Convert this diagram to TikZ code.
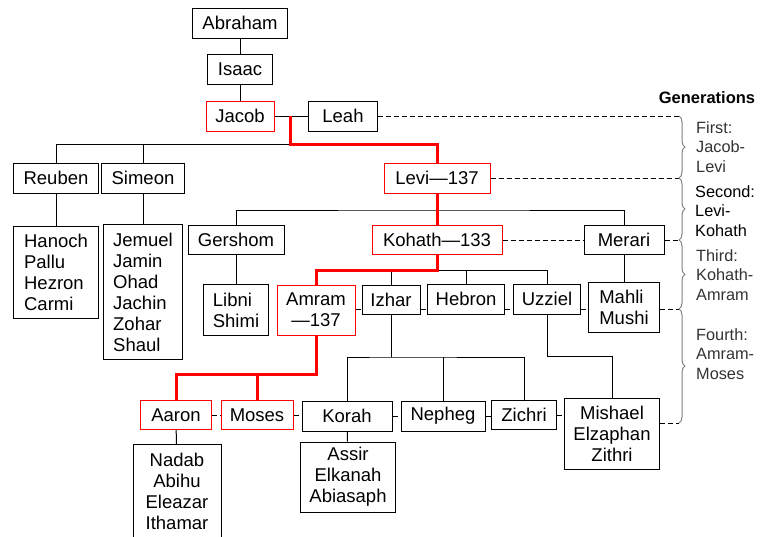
\documentclass[tikz,border=0pt]{standalone}
\usepackage{fontspec}
\setmainfont{Liberation Sans}
\usetikzlibrary{decorations.pathreplacing}
\tikzset{
    person/.style = {rectangle, draw=black, line width=1pt, fill=white, inner sep=0pt, minimum height=30pt, align=center},
    personr/.style = {person, draw=red},
    edgen/.style = {line width=1pt, black},
    edger/.style = {line width=3pt, red},
    edged/.style = {line width=1pt, black, dash pattern=on 5pt off 3pt}, % same generation
    genbrace/.style = {line width=1pt, gray, decorate, decoration={brace, amplitude=6pt}},
    genlabel/.style = {anchor=west, align=left, inner sep=0pt, font=\fontsize{16.3}{19.5}\selectfont, text=black!80}
}

\begin{document}
\begin{tikzpicture}[x=1pt, y=-1pt, font=\fontsize{18.5}{21}\selectfont]
\useasboundingbox (0,0) rectangle (763,536);
\node[person, minimum width=95pt] at (240,23) (abraham) {Abraham};
\node[person, minimum width=65pt] at (240,69) (isaac) {Isaac};
\node[personr, minimum width=68pt] at (240,116) (jacob) {Jacob};
\node[person, minimum width=69pt] at (343,116) (leah) {Leah};
\node[person, minimum width=85pt] at (56,178) (reuben) {Reuben};
\node[person, minimum width=83pt] at (143,178) (simeon) {Simeon};
\node[personr, minimum width=106pt] at (437,178) (levi) {Levi—137};
\node[person, minimum width=85pt, minimum height=92pt, align=left] at (56,272) (hanoch) {Hanoch\\Pallu\\Hezron\\Carmi};
\node[person, minimum width=79pt, minimum height=135pt, align=left] at (143,292) (jemuel) {Jemuel\\Jamin\\Ohad\\Jachin\\Zohar\\Shaul};
\node[person, minimum width=96pt, minimum height=29pt] at (236,240) (gershom) {Gershom};
\node[personr, minimum width=130pt, minimum height=29pt] at (437,240) (kohath) {Kohath—133};
\node[person, minimum width=80pt, minimum height=29pt] at (624,240) (merari) {Merari};
\node[person, minimum width=65pt, minimum height=51pt, align=left] at (236,310) (libni) {Libni\\Shimi};
\node[personr, minimum width=78pt, minimum height=50pt] at (316,310) (amram) {Amram\\—137};
\node[person, minimum width=58pt, minimum height=29pt] at (391,300) (izhar) {Izhar};
\node[person, minimum width=77pt, minimum height=30pt] at (466,299) (hebron) {Hebron};
\node[person, minimum width=67pt, minimum height=30pt] at (547,299) (uzziel) {Uzziel};
\node[person, minimum width=71pt, minimum height=50pt, align=left] at (624,307) (mahli) {Mahli\\Mushi};
\node[personr, minimum width=71pt, minimum height=29pt] at (176,415) (aaron) {Aaron};
\node[personr, minimum width=72pt, minimum height=29pt] at (257,415) (moses) {Moses};
\node[person, minimum width=90pt] at (347,416) (korah) {Korah};
\node[person, minimum width=84pt] at (443,416) (nepheg) {Nepheg};
\node[person, minimum width=65pt, minimum height=29pt] at (524,415) (zichri) {Zichri};
\node[person, minimum width=95pt, minimum height=71pt] at (612,434) (mishael) {Mishael\\Elzaphan\\Zithri};
\node[person, minimum width=88pt, minimum height=93pt] at (177,491) (nadab) {Nadab\\Abihu\\Eleazar\\Ithamar};
\node[person, minimum width=95pt, minimum height=70pt] at (348,477) (assir) {Assir\\Elkanah\\Abiasaph};
%
\coordinate (jl) at (290,116);
\coordinate (j1) at (290,144);
\coordinate (l1) at (437,210);
\coordinate (k1) at (437,270);
\coordinate (a1) at (316,374);
\coordinate (i1) at (391,357);
\coordinate (u1) at (612,356);
\coordinate (g1) at (679,116);
\coordinate (g2) at (679,178);
\coordinate (g3) at (679,240);
\coordinate (g4) at (679,309);
\coordinate (g5) at (679,423);
%
\draw[edgen] (abraham) -- (isaac);
\draw[edgen] (isaac) -- (jacob);
\draw[edgen] (jacob) -- (leah);
\draw[edgen] (j1) -| (reuben);
\draw[edgen] (simeon |- j1) -- (simeon);
\draw[edgen] (reuben) -- (hanoch);
\draw[edgen] (simeon) -- (jemuel);
\draw[edgen] (gershom) |- (l1) -| (merari);
\draw[edgen] (gershom) -- (libni);
\draw[edgen] (merari) -- (mahli);
\draw[edgen] (k1) -| (uzziel);
\draw[edgen] (izhar |- k1) -- (izhar);
\draw[edgen] (hebron |- k1) -- (hebron);
\draw[edgen] (izhar) -- (i1);
\draw[edgen] (korah) |- (i1) -| (zichri);
\draw[edgen] (nepheg |- i1) -- (nepheg);
\draw[edgen] (uzziel) |- (u1) -- (mishael);
\draw[edgen] (aaron) -- (nadab);
\draw[edgen] (korah) -- (assir);
%
\draw[edger] (jl) -- (j1) -| (levi);
\draw[edger] (levi) -- (kohath);
\draw[edger] (kohath) |- (k1) -| (amram);
\draw[edger] (amram) |- (a1) -| (aaron);
\draw[edger] (moses |- a1) -- (moses);
%
\draw[edged] (leah) -- (g1);
\draw[edged] (levi) -- (g2);
\draw[edged] (kohath) -- (merari);
\draw[edged] (merari) -- (g3);
\draw[edged] (amram.east |- g4) -- (izhar.west |- g4);
\draw[edged] (izhar.east |- g4) -- (hebron.west |- g4);
\draw[edged] (hebron.east |- g4) -- (uzziel.west |- g4);
\draw[edged] (uzziel.east |- g4) -- (mahli.west |- g4);
\draw[edged] (mahli.east |- g4) -- (g4);
\draw[edged] (aaron.east) -- (moses.west);
\draw[edged] (moses.east) -- (korah.west |- moses.east);
\draw[edged] (korah.east) -- (nepheg.west);
\draw[edged] (nepheg.east) -- (zichri.west |- nepheg.east);
\draw[edged] (zichri.east) -- (mishael.west |- zichri.east);
\draw[edged] (mishael.east |- g5) -- (g5);
%
\draw[genbrace] (g1) -- (g2);
\draw[genbrace] (g2) -- (g3);
\draw[genbrace] (g3) -- (g4);
\draw[genbrace] (g4) -- (g5);
\node[font=\fontsize{16.5}{19}\selectfont\bfseries, inner sep=0pt] at (707,98) (gens) {Generations};
\node[genlabel] at (696,147) (first) {First:\\Jacob-\\Levi};
\node[genlabel, text=black] at (695,211) (second) {Second:\\Levi-\\Kohath};
\node[genlabel] at (696,275) (third) {Third:\\Kohath-\\Amram};
\node[genlabel] at (696,354) (fourth) {Fourth:\\Amram-\\Moses};
\end{tikzpicture}
\end{document}
